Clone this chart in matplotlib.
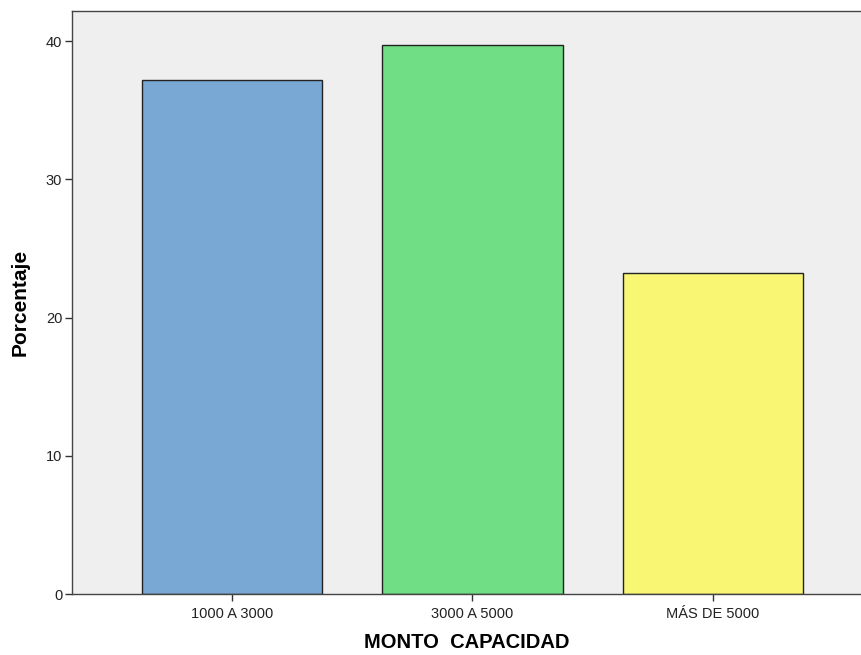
import matplotlib
matplotlib.use("Agg")
import matplotlib.pyplot as plt

categories = ["1000 A 3000", "3000 A 5000", "MÁS DE 5000"]
percentages = [37.2, 39.7, 23.2]
bar_colors = ["#79A8D5", "#70DE84", "#F9F674"]

fig = plt.figure(figsize=(8.62, 6.55), dpi=100)
ax = fig.add_axes([72 / 862, 61 / 655, 1 - 72 / 862, 583 / 655])
ax.set_facecolor("#EFEFEF")

x = range(len(categories))
ax.bar(x, percentages, width=0.75, color=bar_colors, edgecolor="#222222", linewidth=1.0, zorder=2)

ax.set_xlim(-0.665, 2.62)
ax.set_ylim(0, 42.17)
ax.set_yticks([0, 10, 20, 30, 40])
ax.set_xticks(list(x))
ax.set_xticklabels(categories)

for lbl in ax.get_xticklabels() + ax.get_yticklabels():
    lbl.set_fontfamily(["Liberation Sans", "DejaVu Sans"])
    lbl.set_fontsize(10.5)
    lbl.set_color("#222222")

ax.tick_params(axis="both", direction="out", length=5, width=1, color="#333333", pad=2)
ax.tick_params(axis="x", pad=4)

for side in ["left", "bottom", "top"]:
    ax.spines[side].set_color("#444444")
    ax.spines[side].set_linewidth(1.0)
ax.spines["right"].set_visible(False)

ax.set_xlabel("MONTO  CAPACIDAD", fontsize=14.5, fontweight="bold",
              family=["Liberation Sans", "DejaVu Sans"], labelpad=9)
ax.set_ylabel("Porcentaje", fontsize=15, fontweight="bold",
              family=["Liberation Sans", "DejaVu Sans"], labelpad=12)

fig.savefig("out.png", dpi=100, facecolor="white")
